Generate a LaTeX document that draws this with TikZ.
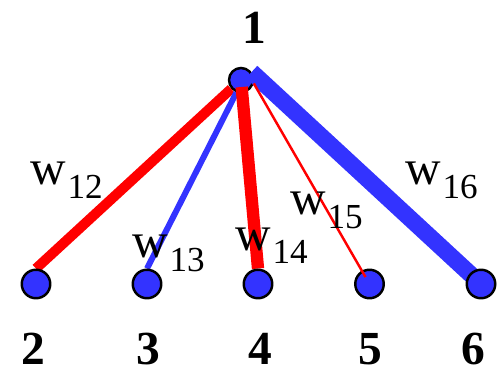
\documentclass[tikz,border=0pt]{standalone}
\usepackage{fontspec}
\setmainfont{Liberation Serif}
\usepackage{xcolor}
\usepackage{tikz}
\usetikzlibrary{arrows.meta,positioning,calc}

\definecolor{nodeblue}{RGB}{51,51,255}
\definecolor{edgered}{RGB}{255,0,0}
\pgfdeclarelayer{background}
\pgfsetlayers{background,main}

\newcommand{\wlab}[1]{{\fontsize{28}{30}\selectfont w}\kern1pt\raisebox{-7.4pt}{\fontsize{20}{22}\selectfont #1}}

\tikzset{
    vertex/.style={circle,draw=black,line width=1.4pt,fill=nodeblue,inner sep=0pt,minimum size=0.57cm},
    hub/.style={vertex,minimum size=0.48cm},
    num/.style={inner sep=0pt,font=\fontsize{27}{30}\selectfont\bfseries},
    wnode/.style={inner sep=0pt,anchor=base west}
}

\begin{document}
\begin{tikzpicture}
\useasboundingbox (0,0) rectangle (10cm,7.48cm);
\begin{pgfonlayer}{background}
    \node (n1) at (4.82cm, 5.88cm) [hub] {};
\end{pgfonlayer}
    \node (n2) at (0.72cm, 1.80cm) [vertex] {};
    \node (n3) at (2.94cm, 1.80cm) [vertex] {};
    \node (n4) at (5.16cm, 1.80cm) [vertex] {};
    \node (n5) at (7.39cm, 1.80cm) [vertex] {};
    \node (n6) at (9.62cm, 1.80cm) [vertex] {};

\begin{pgfonlayer}{background}
    \draw[draw=edgered,line width=5.7pt] (n1.222) -- (n2.north);
    \draw[draw=nodeblue,line width=3.4pt] (n1.250) -- (n3.north);
    \draw[draw=edgered,line width=7pt,shorten <=0.14cm] (n1.center) -- (n4.north);
    \draw[draw=nodeblue,line width=9.6pt] (n1.37) -- (n6.center);
\end{pgfonlayer}
    \draw[draw=edgered,line width=1.4pt,shorten >=0.16cm] (n1.345) -- (n5.center);

    % node numbers
    \node (l1) at (5.08cm, 6.92cm) [num] {1};
    \node (l2) at (0.66cm, 0.50cm) [num] {2};
    \node (l3) at (2.96cm, 0.50cm) [num] {3};
    \node (l4) at (5.20cm, 0.50cm) [num] {4};
    \node (l5) at (7.40cm, 0.50cm) [num] {5};
    \node (l6) at (9.46cm, 0.50cm) [num] {6};

    % weights
    \node (w12) at (0.60cm, 3.78cm) [wnode] {\wlab{12}};
    \node (w13) at (2.64cm, 2.32cm) [wnode] {\wlab{13}};
    \node (w14) at (4.70cm, 2.48cm) [wnode] {\wlab{14}};
    \node (w15) at (5.80cm, 3.18cm) [wnode] {\wlab{15}};
    \node (w16) at (8.10cm, 3.78cm) [wnode] {\wlab{16}};
\end{tikzpicture}
\end{document}
